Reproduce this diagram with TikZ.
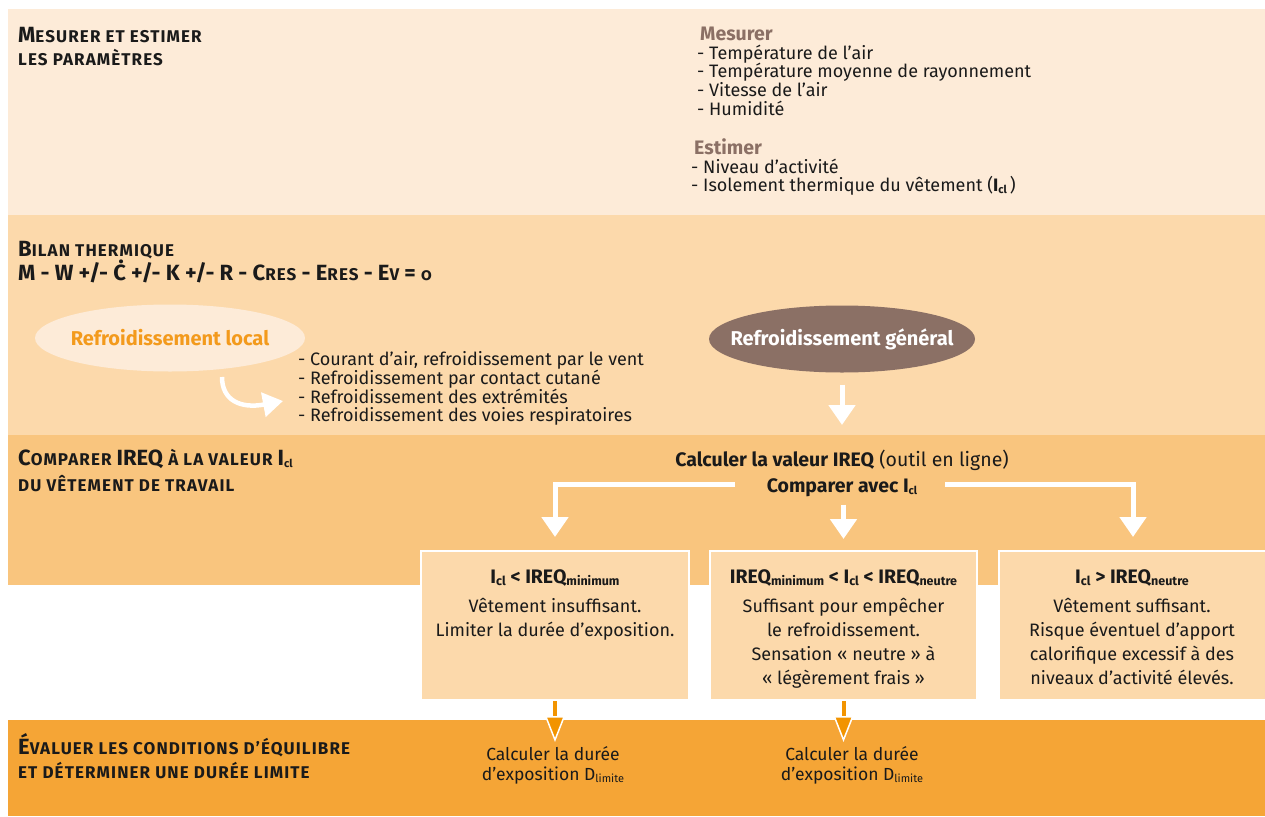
\documentclass[tikz,border=0pt]{standalone}
\usepackage{fontspec}
\setmainfont{Fira Sans}
\newfontfamily\osf{Fira Sans}[Numbers=OldStyle]
\newfontfamily\scf{Fira Sans}[LetterSpace=6.5]
\usetikzlibrary{arrows.meta,shapes.geometric}
\definecolor{bandA}{HTML}{FDEBD8}
\definecolor{bandB}{HTML}{FCD9AB}
\definecolor{bandC}{HTML}{F9C57E}
\definecolor{bandD}{HTML}{F5A536}
\definecolor{brownE}{HTML}{8B7065}
\definecolor{orangeT}{HTML}{F39A1C}
\definecolor{orangeA}{HTML}{F29400}
\definecolor{ink}{HTML}{1A1A1A}
\newcommand\fs[2]{\fontsize{#1}{#2}\selectfont}
\newcommand\SCt[1]{{\scf\bfseries\fs{17}{17}#1}}
\newcommand\BIG[1]{{\fs{22}{22}#1}}
\newcommand\subx[1]{\raisebox{-2pt}{\fs{11}{11}#1}}
\newcommand\subh[1]{\raisebox{-2pt}{\fs{12.5}{12.5}#1}}
\begin{document}
\begin{tikzpicture}[x=1pt,y=-1pt,
  title/.style={anchor=base west, inner sep=0, font=\bfseries, text=ink},
  lst/.style={anchor=north west, inner sep=0, align=left, font=\fs{18}{18.7}, text=ink},
  hdr/.style={anchor=base west, inner sep=0, font=\bfseries\fs{19.5}{19.5}, text=brownE},
  elips/.style={ellipse, minimum width=270pt, minimum height=67pt, inner sep=0},
  eltext/.style={inner sep=0, font=\bfseries\fs{20}{20}},
  boxx/.style={draw=white, line width=2pt, fill=bandB, minimum height=149pt, anchor=north west, inner sep=0},
  boxhead/.style={anchor=base, inner sep=0, font=\bfseries\fs{19.5}{19.5}, text=ink},
  boxbody/.style={anchor=north, inner sep=0, align=center, font=\fs{18}{24}, text=ink},
  calc/.style={anchor=north, inner sep=0, align=center, font=\fs{17.5}{20.5}, text=ink},
  warrow/.style={draw=white, line width=5pt, -{Triangle[width=26pt,length=20pt]}},
  oarrow/.style={draw=orangeA, line width=4pt, -{Triangle[width=20pt,length=26pt,color=white,fill=orangeA,line width=1.5pt]}}
]
\useasboundingbox (0,0) rectangle (1265,816);
\fill[white] (0,0) rectangle (1265,816);
% bands
\fill[bandA] (8,9) rectangle (1265,215);
\fill[bandB] (8,215) rectangle (1265,435);
\fill[bandC] (8,435) rectangle (1265,585);
\fill[bandD] (8,720) rectangle (1265,816);

% band 1
\node[title] (t1a) at (18,42) {\BIG{M}\SCt{ESURER ET ESTIMER}};
\node[title] (t1b) at (18,66) {\SCt{LES PARAMÈTRES}};
\node[hdr] (mes) at (700,41) {Mesurer};
\node[lst] (mesl) at (697,44.5) {- Température de l’air\\- Température moyenne de rayonnement\\- Vitesse de l’air\\- Humidité};
\node[hdr] (est) at (694,154) {Estimer};
\node[lst] (estl) at (691,158.5) {- Niveau d’activité\\- Isolement thermique du vêtement (\textbf{I\subx{cl}}\,)};

% band 2
\node[title] (t2a) at (18,256) {\BIG{B}\SCt{ILAN THERMIQUE}};
\node[title] (eq) at (18,280) {\BIG{M - W +/- Ċ +/- K +/- R - C}\SCt{RES}\BIG{ - E}\SCt{RES}\BIG{ - E}\SCt{V}\BIG{ = }\SCt{\osf 0}};
\node[elips, fill=bandA] (loc) at (170,338) {};
\node[eltext, text=orangeT] (loct) at (loc.center) {Refroidissement local};
\node[elips, fill=brownE, minimum width=266pt] (gen) at (842,339) {};
\node[eltext, text=white] (gent) at (gen.center) {Refroidissement général};
\node[lst] (locl) at (298,351.5) {- Courant d’air, refroidissement par le vent\\- Refroidissement par contact cutané\\- Refroidissement des extrémités\\- Refroidissement des voies respiratoires};
\coordinate (lcA) at (222,377);
\coordinate (lcB) at (283,401);
\draw[white, line width=4.5pt, -{Triangle[width=24pt,length=20pt]}] (lcA) .. controls (222,400) and (240,409) .. (lcB);
\coordinate (genT) at (842,425);
\draw[warrow] ([yshift=-12pt]gen.south) -- (genT);

% band 3
\node[title] (t3a) at (18,465) {\BIG{C}\SCt{OMPARER }\BIG{IREQ}\SCt{ À LA VALEUR }\BIG{I}\subx{cl}};
\node[title] (t3b) at (18,491) {\SCt{DU VÊTEMENT DE TRAVAIL}};
\node[anchor=base, inner sep=0, font=\fs{19.5}{19.5}, text=ink] (calcv) at (842,466) {\textbf{Calculer la valeur IREQ} (outil en ligne)};
\node[anchor=base, inner sep=0, font=\bfseries\fs{19.5}{19.5}, text=ink] (cmp) at (842,492) {Comparer avec I\subx{cl}};

% boxes
\node[boxx, minimum width=268pt] (b1) at (420,550) {};
\node[boxx, minimum width=267pt] (b2) at (709,550) {};
\node[boxx, minimum width=270pt] (b3) at (998,550) {};

\draw[warrow] ([xshift=-32pt]cmp.west |- 0,484) -| ([yshift=13pt]b1.north);
\draw[warrow] ([xshift=28pt]cmp.east |- 0,484) -| ([yshift=13pt]b3.north -| 1133,0);
\draw[warrow] ([yshift=-8pt]cmp.south -| b2.north) -- ([yshift=11pt]b2.north);

\node[boxhead] (h1) at ([yshift=-33pt]b1.north) {I\subh{cl} < IREQ\subh{minimum}};
\node[boxhead] (h2) at ([yshift=-33pt]b2.north) {IREQ\subh{minimum} < I\subh{cl} < IREQ\subh{neutre}};
\node[boxhead] (h3) at (1132,583) {I\subh{cl} > IREQ\subh{neutre}};
\node[boxbody] (p1) at ([yshift=-48.5pt]b1.north) {Vêtement insuffisant.\\Limiter la durée d’exposition.};
\node[boxbody] (p2) at ([yshift=-48.5pt]b2.north) {Suffisant pour empêcher\\le refroidissement.\\Sensation « neutre » à\\« légèrement frais »};
\node[boxbody] (p3) at (1132,598.5) {Vêtement suffisant.\\Risque éventuel d’apport\\calorifique excessif à des\\niveaux d’activité élevés.};

% band 4
\node[title] (t4a) at (18,754) {\BIG{É}\SCt{VALUER LES CONDITIONS D’ÉQUILIBRE}};
\node[title] (t4b) at (18,778) {\SCt{ET DÉTERMINER UNE DURÉE LIMITE}};
\node[calc] (c1) at (553,746) {Calculer la durée\\d’exposition D\subx{limite}};
\node[calc] (c2) at (852,746) {Calculer la durée\\d’exposition D\subx{limite}};
\draw[oarrow] (b1.south) -- ([yshift=-41pt]b1.south);
\draw[oarrow] (b2.south) -- ([yshift=-41pt]b2.south);
\end{tikzpicture}
\end{document}
